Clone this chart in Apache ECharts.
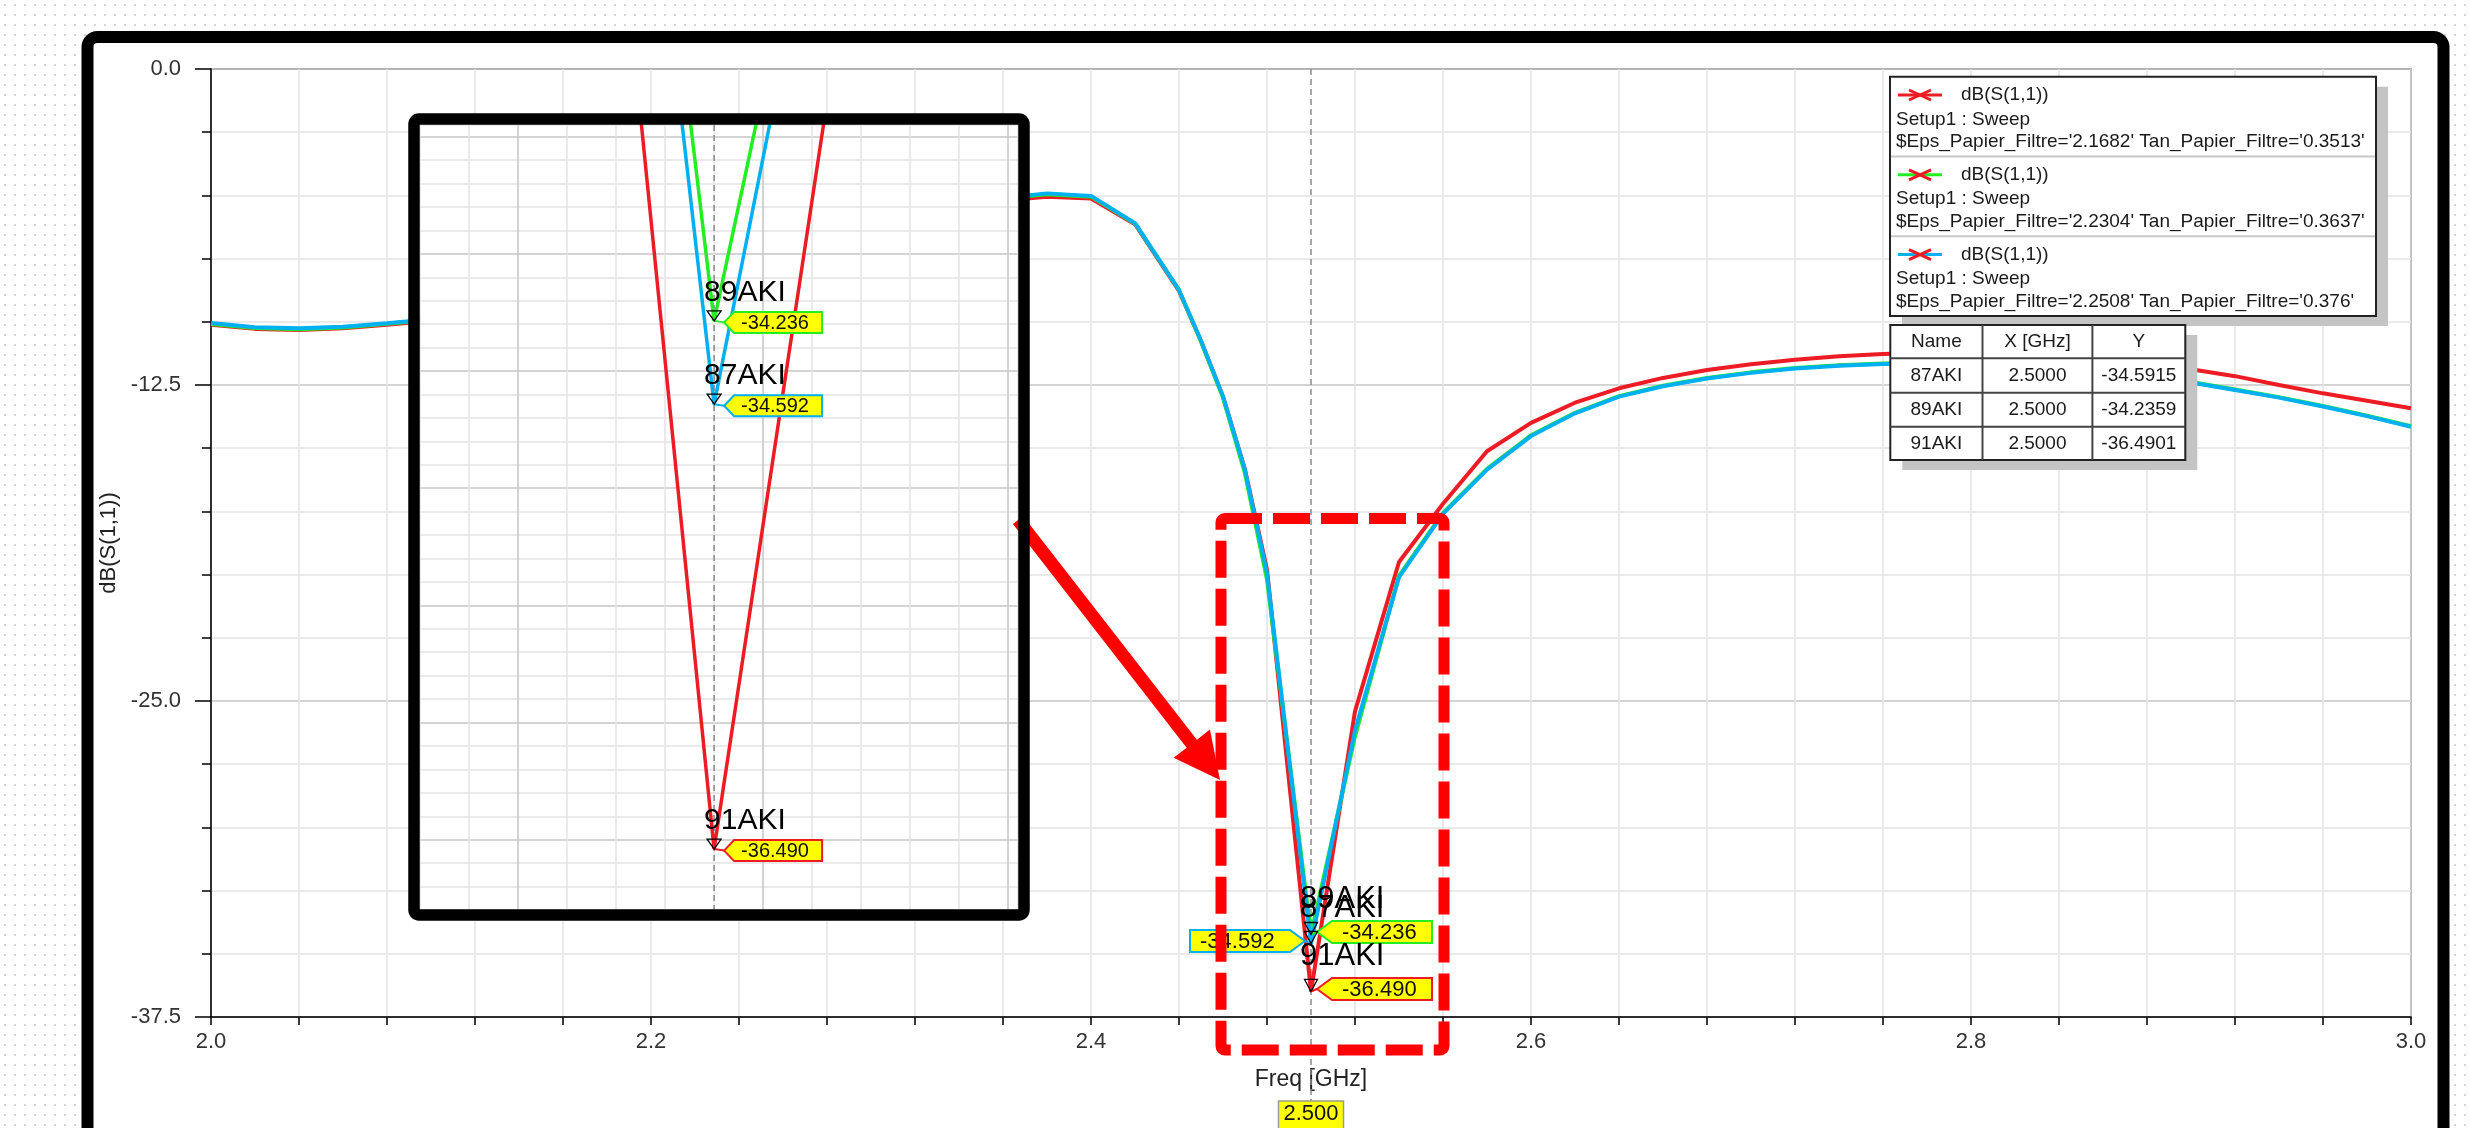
<!DOCTYPE html>
<html><head><meta charset="utf-8">
<script src="https://cdn.jsdelivr.net/npm/echarts/dist/echarts.min.js"></script>
<style>
html,body{margin:0;padding:0;width:2469px;height:1128px;overflow:hidden;
background-color:#fff;
background-image:radial-gradient(circle, #d6d6d6 0.9px, rgba(255,255,255,0) 1.4px);
background-size:10px 10px;}
#c{width:2469px;height:1128px;}
</style></head><body><div id="c"></div>
<script>
// ---------------- data ----------------
const freq = [2.00,2.02,2.04,2.06,2.08,2.10,2.12,2.14,2.16,2.18,
  2.20,2.22,2.24,2.26,2.28,2.30,2.32,2.34,2.36,2.38,
  2.40,2.42,2.44,2.45,2.46,2.47,2.48,2.50,2.52,2.54,
  2.56,2.58,2.60,2.62,2.64,2.66,2.68,2.70,2.72,2.74,
  2.76,2.78,2.80,2.82,2.84,2.86,2.88,2.90,2.92,2.94,
  2.96,2.98,3.00];
const redS11 = [-10.12,-10.28,-10.32,-10.26,-10.12,-9.96,-9.72,-9.42,-9.08,-8.68,
  -8.24,-7.79,-7.34,-6.89,-6.45,-6.05,-5.70,-5.40,-5.20,-5.05,
  -5.12,-6.14,-8.78,-10.76,-12.96,-15.85,-19.81,-36.4901,-25.41,-19.50,
  -17.20,-15.12,-14.00,-13.20,-12.63,-12.22,-11.91,-11.68,-11.50,-11.36,
  -11.27,-11.22,-11.22,-11.28,-11.38,-11.52,-11.68,-11.88,-12.15,-12.50,
  -12.83,-13.12,-13.42];
const greenS11 = [-10.09,-10.25,-10.29,-10.23,-10.08,-9.92,-9.67,-9.37,-9.02,-8.62,
  -8.17,-7.72,-7.27,-6.82,-6.37,-5.97,-5.62,-5.32,-5.12,-4.95,
  -5.05,-6.11,-8.74,-10.78,-13.00,-16.00,-20.20,-34.2359,-26.40,-20.05,
  -17.56,-15.82,-14.49,-13.60,-12.94,-12.53,-12.22,-12.00,-11.83,-11.72,
  -11.65,-11.62,-11.64,-11.70,-11.81,-11.96,-12.14,-12.38,-12.68,-12.98,
  -13.33,-13.71,-14.13];
const blueS11 = [-10.05,-10.22,-10.26,-10.20,-10.06,-9.90,-9.65,-9.35,-9.00,-8.60,
  -8.15,-7.70,-7.25,-6.80,-6.35,-5.95,-5.60,-5.30,-5.10,-4.92,
  -5.02,-6.10,-8.75,-10.75,-12.95,-15.87,-19.95,-34.5915,-26.17,-20.10,
  -17.60,-15.85,-14.52,-13.62,-12.96,-12.55,-12.24,-12.02,-11.85,-11.74,
  -11.67,-11.64,-11.66,-11.72,-11.83,-11.98,-12.16,-12.40,-12.70,-13.00,
  -13.35,-13.73,-14.15];
const seriesColors = ['#ed1c24', '#22ee22', '#00b0f0'];
const legendTitle = 'dB(S(1,1))';
const legendSetup = 'Setup1 : Sweep';
const legendParams = ["$Eps_Papier_Filtre='2.1682' Tan_Papier_Filtre='0.3513'",
  "$Eps_Papier_Filtre='2.2304' Tan_Papier_Filtre='0.3637'",
  "$Eps_Papier_Filtre='2.2508' Tan_Papier_Filtre='0.376'"];
const markerNames = ['87AKI', '89AKI', '91AKI'];
const markerFreq = [2.5, 2.5, 2.5];
const markerVals = [-34.5915, -34.2359, -36.4901];
const markerSeries = [2, 1, 0];          // blue, green, red curve
const tableHeader = ['Name', 'X [GHz]', 'Y'];
const xTitle = 'Freq [GHz]';
const yTitle = 'dB(S(1,1))';
const cursorFreq = 2.5;

// ---------------- chart ----------------
const FONT = '"Liberation Sans", Arial, sans-serif';
const chart = echarts.init(document.getElementById('c'), null, {renderer: 'canvas'});
const pairs = arr => freq.map((f, i) => [f, arr[i]]);
const curves = [redS11, greenS11, blueS11];
const mkLine = (data, color, xi, yi, w, z) => ({
  type: 'line', data, xAxisIndex: xi, yAxisIndex: yi, symbol: 'none', showSymbol: false,
  lineStyle: {color, width: w}, itemStyle: {color}, z, clip: true, silent: true,
  animation: false, emphasis: {disabled: true}
});
const MINC = '#e3e3e3', MAJC = '#c6c6c6';
const option = {
  backgroundColor: 'transparent',
  animation: false,
  grid: [
    {left: 211, top: 69, width: 2200, height: 948, show: true, borderColor: '#000', borderWidth: 1.2,
     backgroundColor: 'rgba(0,0,0,0)', containLabel: false, outerBoundsMode: 'none'},
    {left: 420, top: 125, width: 598, height: 785, show: true, borderWidth: 0,
     backgroundColor: '#fff', containLabel: false, outerBoundsMode: 'none', z: 5}
  ],
  xAxis: [
    {gridIndex: 0, type: 'value', min: 2, max: 3, interval: 0.2,
     axisLine: {show: true, onZero: false, lineStyle: {color: '#000', width: 1.5}},
     axisTick: {show: true, length: 8, lineStyle: {color: '#000', width: 1.5}},
     minorTick: {show: true, splitNumber: 5, length: 8, lineStyle: {color: '#000', width: 1.5}},
     splitLine: {show: true, lineStyle: {color: MINC, width: 1.5}},
     minorSplitLine: {show: true, lineStyle: {color: MINC, width: 1.5}},
     axisLabel: {show: true, fontSize: 22, fontFamily: FONT, color: '#333', margin: 14,
       formatter: v => v.toFixed(1)},
     name: xTitle, nameLocation: 'middle', nameGap: 63,
     nameTextStyle: {fontSize: 23, fontFamily: FONT, color: '#222', verticalAlign: 'middle'}},
    {gridIndex: 1, type: 'value', min: 2.485, max: 2.5155, interval: 0.0025, z: 6,
     axisLine: {show: false}, axisTick: {show: false}, axisLabel: {show: false},
     splitLine: {show: true, lineStyle: {color: [MINC, MINC, MAJC, MINC, MINC], width: 1.5}}}
  ],
  yAxis: [
    {gridIndex: 0, type: 'value', min: -37.5, max: 0, interval: 12.5,
     axisLine: {show: true, onZero: false, lineStyle: {color: '#000', width: 1.5}},
     axisTick: {show: true, length: 16, lineStyle: {color: '#000', width: 1.5}},
     minorTick: {show: true, splitNumber: 5, length: 9, lineStyle: {color: '#000', width: 1.5}},
     splitLine: {show: true, lineStyle: {color: MAJC, width: 1.5}},
     minorSplitLine: {show: true, lineStyle: {color: MINC, width: 1.5}},
     axisLabel: {show: true, fontSize: 22, fontFamily: FONT, color: '#333', margin: 30,
       formatter: v => v.toFixed(1)},
     name: yTitle, nameLocation: 'middle', nameGap: 101, nameRotate: 90,
     nameTextStyle: {fontSize: 22, fontFamily: FONT, color: '#222', verticalAlign: 'middle'}},
    {gridIndex: 1, type: 'value', min: -36.75, max: -33.4, show: false, splitLine: {show: false}},
    {gridIndex: 1, type: 'value', min: 0, max: 33.5, interval: 1, z: 6, position: 'left',
     axisLine: {show: false}, axisTick: {show: false}, axisLabel: {show: false},
     splitLine: {show: true, lineStyle: {color: [MINC, MINC, MINC, MAJC, MINC], width: 1.5}}}
  ],
  series: [
    ...curves.map((c, i) => mkLine(pairs(c), seriesColors[i], 0, 0, 4, 2)),
    ...curves.map((c, i) => mkLine(pairs(c), seriesColors[i], 1, 1, 3.5, 8))
  ]
};
chart.setOption(option);

// ---------------- overlay graphics ----------------
const P = (si, x, y) => chart.convertToPixel({seriesIndex: si}, [x, y]);
const els = [];
const T = (x, y, s, size, o) => Object.assign({type: 'text', silent: true, z: (o && o.z) || 40,
  style: {text: s, x, y, fontSize: size, fontFamily: FONT, fill: (o && o.fill) || '#1a1a1a',
          align: (o && o.align) || 'left', verticalAlign: 'middle'}});
const L = (x1, y1, x2, y2, stroke, w, z, dash) => ({type: 'line', silent: true, z,
  shape: {x1, y1, x2, y2}, style: {stroke, lineWidth: w, lineDash: dash || null}});

// outer black frame with white inside
els.push({type: 'rect', silent: true, z: -10, shape: {x: 87.5, y: 37, width: 2356, height: 1200, r: 10},
  style: {fill: '#fff', stroke: '#000', lineWidth: 12}});

// cursor line at 2.5 GHz (main)
const cTop = P(0, cursorFreq, 0), cBot = P(0, cursorFreq, -37.5);
els.push(L(cTop[0], cTop[1], cTop[0], cBot[1] + 84, '#8a8a8a', 1.5, 1, [6, 4]));
els.push({type: 'rect', silent: true, z: 3, shape: {x: cTop[0] - 32.5, y: cBot[1] + 84, width: 65, height: 40},
  style: {fill: '#ffff00', stroke: '#9a9a9a', lineWidth: 1.5}});
els.push(T(cTop[0], cBot[1] + 97, cursorFreq.toFixed(3), 22, {align: 'center', z: 4, fill: '#111'}));

// cursor line inside inset
const iTop = P(3, cursorFreq, -33.4), iBot = P(3, cursorFreq, -36.75);
els.push(L(iTop[0], iTop[1], iTop[0], iBot[1], '#8a8a8a', 1.5, 7, [6, 4]));

function markers(base, cfg) {
  markerNames.forEach((nm, i) => {
    const [px, py] = P(base + markerSeries[i], markerFreq[i], markerVals[i]);
    const col = seriesColors[markerSeries[i]];
    const side = cfg.side[i];
    const cy = py + cfg.boxDy;
    const tipX = px + side * cfg.tip;
    const rNear = px + side * cfg.gap, rFar = rNear + side * cfg.w;
    const top = cy - cfg.h / 2, bot = cy + cfg.h / 2;
    els.push(L(px, py, tipX, cy, col, 2, cfg.z));
    els.push({type: 'polygon', silent: true, z: cfg.z,
      shape: {points: [[tipX, cy], [rNear, top], [rFar, top], [rFar, bot], [rNear, bot]]},
      style: {fill: '#ffff00', stroke: col, lineWidth: 2}});
    els.push(T(Math.min(rNear, rFar) + cfg.pad, cy + 1, markerVals[i].toFixed(3), cfg.vfs, {z: cfg.z + 1, fill: '#111'}));
    els.push({type: 'polygon', silent: true, z: cfg.z + 1,
      shape: {points: [[px - cfg.tw / 2, py - cfg.th], [px + cfg.tw / 2, py - cfg.th], [px, py]]},
      style: {fill: 'rgba(255,255,255,0)', stroke: '#000', lineWidth: 1.3}});
    els.push(T(px + cfg.nx, py + cfg.ny, nm, cfg.nfs, {z: cfg.z + 1, fill: '#000'}));
  });
}
markers(0, {side: [-1, 1, 1], boxDy: -2.5, tip: 6, gap: 21, w: 100, h: 22, vfs: 22, pad: 10,
  tw: 13, th: 12, nx: -11, ny: -35, nfs: 31, z: 20});
markers(3, {side: [1, 1, 1], boxDy: 1.5, tip: 10, gap: 20, w: 88, h: 21, vfs: 20, pad: 7,
  tw: 14, th: 10, nx: -10, ny: -28.5, nfs: 30, z: 9});

// red dashed highlight box and arrow
els.push({type: 'rect', silent: true, z: 30, shape: {x: 1221, y: 518.5, width: 223, height: 531.5, r: 4},
  style: {fill: 'none', stroke: '#ff0000', lineWidth: 11, lineDash: [37, 11]}});
(function () {
  const S = [1018, 520], Tp = [1220, 780];
  const dx = Tp[0] - S[0], dy = Tp[1] - S[1], len = Math.hypot(dx, dy);
  const u = [dx / len, dy / len], n = [-u[1], u[0]];
  const w = 6.5, H = 23, Lh = 46;
  const B = [Tp[0] - Lh * u[0], Tp[1] - Lh * u[1]];
  const pt = (p, k) => [p[0] + k * n[0], p[1] + k * n[1]];
  els.push({type: 'polygon', silent: true, z: 30,
    shape: {points: [pt(S, w), pt(B, w), pt(B, H), Tp, pt(B, -H), pt(B, -w), pt(S, -w)]},
    style: {fill: '#ff0000'}});
})();

// inset frame
els.push({type: 'rect', silent: true, z: 31, shape: {x: 414, y: 119, width: 610, height: 796, r: 5},
  style: {fill: 'none', stroke: '#000', lineWidth: 11.5}});

// legend
const LG = {x: 1890, y: 76.7, w: 486, h: 239.3, sec: 79.8};
els.push({type: 'rect', silent: true, z: 39, shape: {x: LG.x + 12, y: LG.y + 10, width: LG.w, height: LG.h},
  style: {fill: '#c4c4c4'}});
els.push({type: 'rect', silent: true, z: 40, shape: {x: LG.x, y: LG.y, width: LG.w, height: LG.h},
  style: {fill: '#fff', stroke: '#222', lineWidth: 2}});
for (let i = 0; i < 3; i++) {
  const top = LG.y + i * LG.sec;
  if (i > 0) els.push(L(LG.x + 1, top, LG.x + LG.w - 1, top, '#c8c8c8', 2, 41));
  const ly = top + 18.3;
  els.push(L(1898, ly, 1942, ly, seriesColors[i], 3, 41));
  els.push(L(1909, ly - 5, 1931, ly + 5, '#ed1c24', 3, 42));
  els.push(L(1909, ly + 5, 1931, ly - 5, '#ed1c24', 3, 42));
  els.push(T(1961, ly, legendTitle, 19, {z: 42}));
  els.push(T(1896, top + 42.6, legendSetup, 19, {z: 42}));
  els.push(T(1896, top + 65, legendParams[i], 19, {z: 42}));
}

// marker table
const TB = {x: 1890.3, y: 325, w: 295, cols: [1890.3, 1982.5, 2092.4, 2185.3], rows: [325, 358.3, 392.7, 426.7, 460]};
els.push({type: 'rect', silent: true, z: 39, shape: {x: TB.x + 12, y: TB.y + 10, width: TB.w, height: 135},
  style: {fill: '#c4c4c4'}});
els.push({type: 'rect', silent: true, z: 40, shape: {x: TB.x, y: TB.y, width: TB.w, height: 135},
  style: {fill: '#fff', stroke: '#222', lineWidth: 2}});
[1, 2].forEach(c => els.push(L(TB.cols[c], TB.rows[0], TB.cols[c], TB.rows[4], '#444', 2, 41)));
[1, 2, 3].forEach(r => els.push(L(TB.cols[0], TB.rows[r], TB.cols[3], TB.rows[r], '#444', 2, 41)));
const cellX = c => (TB.cols[c] + TB.cols[c + 1]) / 2;
const cellY = r => (TB.rows[r] + TB.rows[r + 1]) / 2;
tableHeader.forEach((h, c) => els.push(T(cellX(c), cellY(0), h, 19, {align: 'center', z: 42})));
markerNames.forEach((nm, r) => {
  els.push(T(cellX(0), cellY(r + 1), nm, 19, {align: 'center', z: 42}));
  els.push(T(cellX(1), cellY(r + 1), markerFreq[r].toFixed(4), 19, {align: 'center', z: 42}));
  els.push(T(cellX(2), cellY(r + 1), markerVals[r].toFixed(4), 19, {align: 'center', z: 42}));
});

chart.setOption({graphic: {elements: els}});
</script></body></html>
